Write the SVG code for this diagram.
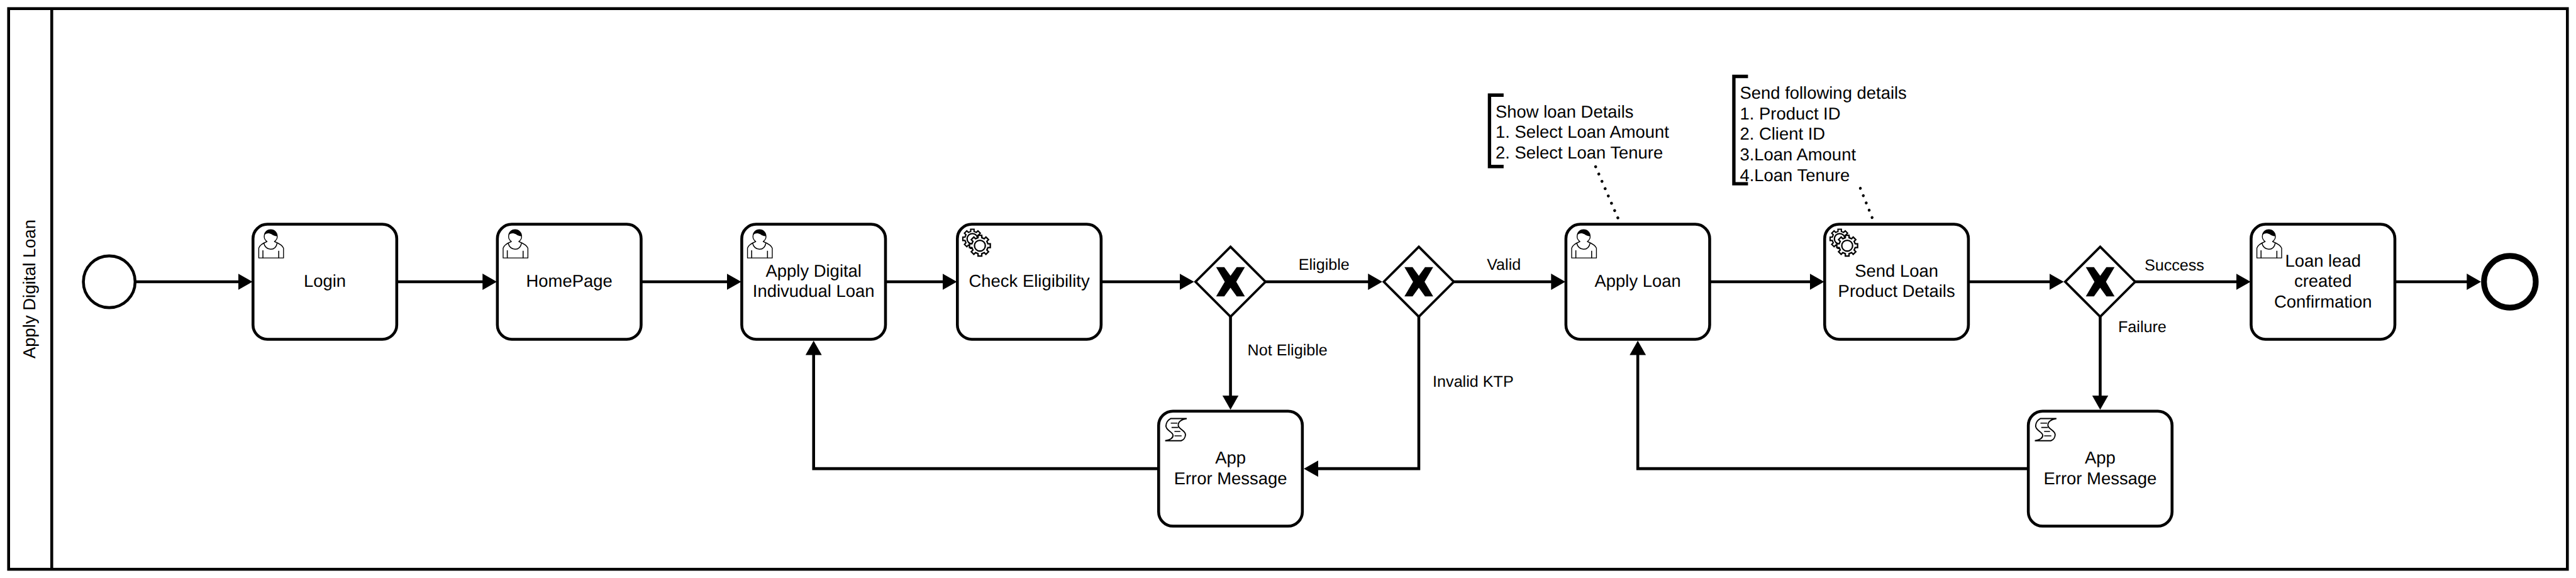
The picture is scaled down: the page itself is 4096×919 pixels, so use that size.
<svg xmlns="http://www.w3.org/2000/svg" xmlns:xlink="http://www.w3.org/1999/xlink" width="4096" height="919" viewBox="0 0 4096 919">
<style>
text{font-family:"Liberation Sans",Arial,sans-serif;fill:#000;text-rendering:geometricPrecision}
.t{font-size:36px;text-anchor:middle}
.n{font-size:36px}
.l{font-size:33px}
.box{fill:#fff;stroke:#000;stroke-width:6}
.gw{fill:#fff;stroke:#000;stroke-width:5}
.ln{fill:none;stroke:#000;stroke-width:6}
.flow{fill:none;stroke:#000;stroke-width:6;marker-end:url(#arrow)}
.dot{fill:none;stroke:#000;stroke-width:6;stroke-linecap:round}
.icon{fill:#fff;stroke:#000;stroke-width:1.8;stroke-linejoin:round}
.gear{fill:#fff;stroke:#000;stroke-width:3}
.script{fill:#fff;stroke:#000;stroke-width:2.5}
.thin{fill:none;stroke:#000;stroke-width:2}
.br{fill:none;stroke:#000;stroke-width:7}
</style>
<defs>
<marker id="arrow" markerUnits="userSpaceOnUse" markerWidth="30" markerHeight="34" viewBox="0 0 30 34" refX="20" refY="17" orient="auto"><path d="M0,0L30,17L0,34Z" fill="#000"/></marker>
<g id="user">
<path class="icon" d="M12,70.3V49.7C14,43 22,39 29.3,36C25,33 23,29 23.5,24.7A13.5,13.5 0 1 1 50.5,24.7C51,29 49,33 44.7,36C52,39 61,43 63.7,49.7V70.3Z"/>
<path class="thin" d="M22.7,39.3C24,47 30,52 37,52C44,52 49,47 50.3,39.3M20.7,54.3V70.3M53.7,55.3V70.3"/>
<path d="M23.6,23C24,15 30,11.2 37,11.2C44,11.2 50,16 50.4,24.7C46,25 42,23.5 39,21C36,19 31,18 28,19.5C26,20.5 24.5,21.5 23.6,23Z" fill="#000"/>
</g>
<path id="gearShape" d="M16.7,-3.85L21.7,-3.85 21.7,3.85 16.7,3.85 14.5,9.1 18,12.6 12.6,18 9.1,14.5 3.85,16.7 3.85,21.7 -3.85,21.7 -3.85,16.7 -9.1,14.5 -12.6,18 -18,12.6 -14.5,9.1 -16.7,3.85 -21.7,3.85 -21.7,-3.85 -16.7,-3.85 -14.5,-9.1 -18,-12.6 -12.6,-18 -9.1,-14.5 -3.85,-16.7 -3.85,-21.7 3.85,-21.7 3.85,-16.7 9.1,-14.5 12.6,-18 18,-12.6 14.5,-9.1Z"/>
<g id="gears">
<use xlink:href="#gearShape" href="#gearShape" class="gear" transform="translate(31.3,30.3) scale(.92)"/>
<circle cx="31.3" cy="30.3" r="11" class="gear"/>
<use xlink:href="#gearShape" href="#gearShape" class="gear" transform="translate(47,44.7)"/>
<circle cx="47" cy="44.7" r="11.3" class="gear"/>
</g>
<g id="scroll">
<path class="script" d="M25,15.5H58.7C48,17 40,22 41,30C42,38 56,40 56,49C56,55 52,60 47,61.7H13.7C22,60 31,57 30,50C29,43 15,40 15.3,31C15.5,24 20,18 25,15.5Z"/>
<path class="thin" stroke-width="2.5" d="M25.3,25H39.3M27,34H41M33,42.4H45.3M33,51.5H48"/>
</g>
<polygon id="xmark" points="-30,-30.5 -13,-30.5 0,-12.5 13,-30.5 30,-30.5 12,0 30,30.5 13,30.5 0,12.5 -13,30.5 -30,30.5 -12,0" fill="#000"/>
<polygon id="diamond" points="0,-73 73,0 0,73 -73,0" class="gw"/>
</defs>
<g transform="scale(0.761905)">
<rect width="5376" height="1206" fill="#fff"/>
<g id="pool">
<rect x="18" y="18" width="5340" height="1170" fill="#fff" stroke="#000" stroke-width="6"/>
<line x1="108" y1="18" x2="108" y2="1188" class="ln"/>
<text class="t" transform="translate(73,603) rotate(-90)">Apply Digital Loan</text>
</g>
<g id="connectors">
<path class="flow" d="M282,588H517"/>
<path class="flow" d="M828,588H1027"/>
<path class="flow" d="M1338,588H1537"/>
<path class="flow" d="M1848,588H1987"/>
<path class="flow" d="M2298,588H2482"/>
<path class="flow" d="M2640,588H2875"/>
<path class="flow" d="M3033,588H3257"/>
<path class="flow" d="M3568,588H3797"/>
<path class="flow" d="M4108,588H4297"/>
<path class="flow" d="M4455,588H4687"/>
<path class="flow" d="M4998,588H5168"/>
<path class="flow" d="M2568,660V845"/>
<path class="flow" d="M2961,660V978H2731"/>
<path class="flow" d="M2418,978H1698V721"/>
<path class="flow" d="M4383,660V845"/>
<path class="flow" d="M4233,978H3418V721"/>
<path class="dot" stroke-dasharray="0.01 16.6" d="M3330,348L3376.5,455"/>
<path class="dot" stroke-dasharray="0.01 16.4" d="M3882.5,393L3907,454"/>
</g>
<g id="start"><circle cx="228" cy="588" r="54" class="box"/></g>
<g id="login"><rect x="528" y="468" width="300" height="240" rx="30" class="box"/><use href="#user" x="528" y="468"/><text class="t" x="678" y="599">Login</text></g>
<g id="homepage"><rect x="1038" y="468" width="300" height="240" rx="30" class="box"/><use href="#user" x="1038" y="468"/><text class="t" x="1188" y="599">HomePage</text></g>
<g id="apply-digital"><rect x="1548" y="468" width="300" height="240" rx="30" class="box"/><use href="#user" x="1548" y="468"/><text class="t" x="1698" y="577">Apply Digital<tspan x="1698" y="620">Indivudual Loan</tspan></text></g>
<g id="check"><rect x="1998" y="468" width="300" height="240" rx="30" class="box"/><use href="#gears" x="1998" y="468"/><text class="t" x="2148" y="599">Check Eligibility</text></g>
<g id="gw1"><use href="#diamond" x="2568" y="588"/><use href="#xmark" x="2568" y="588"/></g>
<g id="gw2"><use href="#diamond" x="2961" y="588"/><use href="#xmark" x="2961" y="588"/></g>
<g id="error1"><rect x="2418" y="858" width="300" height="240" rx="30" class="box"/><use href="#scroll" x="2418" y="858"/><text class="t" x="2568" y="967">App<tspan x="2568" y="1010">Error Message</tspan></text></g>
<g id="apply-loan"><rect x="3268" y="468" width="300" height="240" rx="30" class="box"/><use href="#user" x="3268" y="468"/><text class="t" x="3418" y="599">Apply Loan</text></g>
<g id="send-loan"><rect x="3808" y="468" width="300" height="240" rx="30" class="box"/><use href="#gears" x="3808" y="468"/><text class="t" x="3958" y="577">Send Loan<tspan x="3958" y="620">Product Details</tspan></text></g>
<g id="gw3"><use href="#diamond" x="4383" y="588"/><use href="#xmark" x="4383" y="588"/></g>
<g id="error2"><rect x="4233" y="858" width="300" height="240" rx="30" class="box"/><use href="#scroll" x="4233" y="858"/><text class="t" x="4383" y="967">App<tspan x="4383" y="1010">Error Message</tspan></text></g>
<g id="lead"><rect x="4698" y="468" width="300" height="240" rx="30" class="box"/><use href="#user" x="4698" y="468"/><text class="t" x="4848" y="556">Loan lead<tspan x="4848" y="599">created</tspan><tspan x="4848" y="642">Confirmation</tspan></text></g>
<g id="end"><circle cx="5238" cy="588" r="54" fill="#fff" stroke="#000" stroke-width="12"/></g>
<g id="note1"><path class="br" d="M3138,198.5H3108.5V347.5H3138"/><text class="n" x="3121" y="245">Show loan Details<tspan x="3121" y="288">1. Select Loan Amount</tspan><tspan x="3121" y="331">2. Select Loan Tenure</tspan></text></g>
<g id="note2"><path class="br" d="M3648,159.5H3618.5V383.5H3648"/><text class="n" x="3631" y="206">Send following details<tspan x="3631" y="249">1. Product ID</tspan><tspan x="3631" y="292">2. Client ID</tspan><tspan x="3631" y="335">3.Loan Amount</tspan><tspan x="3631" y="378">4.Loan Tenure</tspan></text></g>
<g id="labels">
<text class="l" x="2710" y="563">Eligible</text>
<text class="l" x="3103" y="563">Valid</text>
<text class="l" x="2603.5" y="741">Not Eligible</text>
<text class="l" x="2990" y="807">Invalid KTP</text>
<text class="l" x="4475.5" y="564">Success</text>
<text class="l" x="4420.5" y="693">Failure</text>
</g>
</g>
</svg>
